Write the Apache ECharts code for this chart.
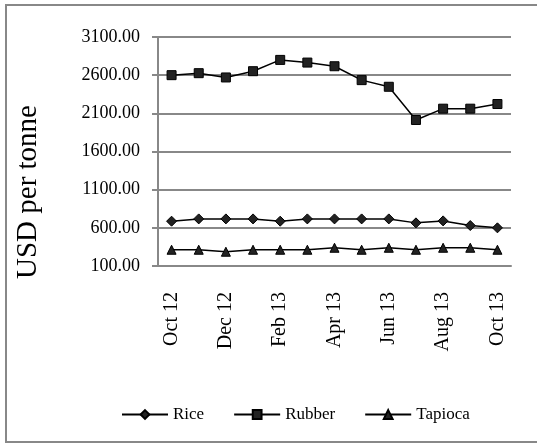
<!DOCTYPE html>
<html><head><meta charset="utf-8">
<script src="https://cdn.jsdelivr.net/npm/echarts@6/dist/echarts.min.js"></script>
<style>html,body{margin:0;padding:0;background:#fff}#c{width:537px;height:444px}</style>
</head><body><div id="c"></div>
<script>
var categories = ['Oct 12','Nov 12','Dec 12','Jan 13','Feb 13','Mar 13','Apr 13','May 13','Jun 13','Jul 13','Aug 13','Sep 13','Oct 13'];
var rice = [687, 717, 717, 717, 687, 717, 717, 717, 717, 665, 691, 630, 600];
var rubber = [2600, 2626, 2570, 2652, 2800, 2765, 2717, 2535, 2448, 2013, 2161, 2161, 2222];
var tapioca = [313, 313, 287, 313, 313, 313, 339, 313, 339, 313, 339, 339, 313];
var yTicks = {min: 100, max: 3100, interval: 500};

var font = 'Liberation Serif';
var chart = echarts.init(document.getElementById('c'), null, {renderer: 'canvas'});
function s(name, data, symbol, size) {
  return {
    name: name, type: 'line', data: data, symbol: symbol, symbolSize: size,
    showAllSymbol: true,
    lineStyle: {color: '#000', width: 1.5},
    itemStyle: {color: '#222', borderColor: '#000', borderWidth: 1},
    animation: false
  };
}
chart.setOption({
  animation: false,
  textStyle: {fontFamily: font},
  graphic: [
    {type: 'rect', shape: {x: 6, y: 5, width: 540, height: 437}, style: {fill: 'none', stroke: '#888', lineWidth: 2}, silent: true},
    {type: 'text', x: 28, y: 192, rotation: Math.PI / 2,
     style: {text: 'USD per tonne', fontFamily: font, fontSize: 29, fill: '#000', textAlign: 'center', textVerticalAlign: 'middle'}}
  ],
  grid: {left: 158, right: 26, top: 37, bottom: 178, containLabel: false},
  legend: {
    bottom: 16, left: 116, itemWidth: 46, itemHeight: 11, itemGap: 29,
    textStyle: {fontFamily: font, fontSize: 17, color: '#000'},
    data: ['Rice', 'Rubber', 'Tapioca']
  },
  xAxis: {
    type: 'category', data: categories, boundaryGap: true,
    axisLine: {lineStyle: {color: '#888', width: 2}},
    axisTick: {interval: 1, length: 5, lineStyle: {color: '#888', width: 2}},
    axisLabel: {interval: 1, rotate: 90, margin: 26, color: '#000', fontFamily: font, fontSize: 20}
  },
  yAxis: {
    type: 'value', min: yTicks.min, max: yTicks.max, interval: yTicks.interval,
    axisLine: {show: true, lineStyle: {color: '#888', width: 2}},
    axisTick: {show: true, length: 6, lineStyle: {color: '#888', width: 2}},
    splitLine: {lineStyle: {color: '#888', width: 2}},
    axisLabel: {margin: 18, color: '#000', fontFamily: font, fontSize: 18,
      formatter: function (v) { return v.toFixed(2); }}
  },
  series: [
    s('Rice', rice, 'diamond', 10),
    s('Rubber', rubber, 'rect', 9),
    s('Tapioca', tapioca, 'triangle', 9)
  ]
});
</script></body></html>
